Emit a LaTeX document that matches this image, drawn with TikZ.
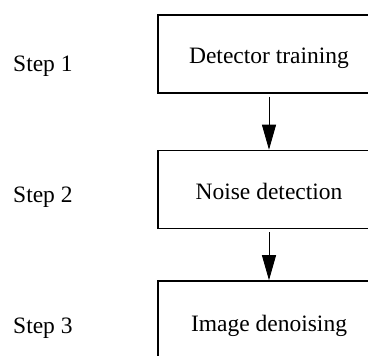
\documentclass[tikz,border=0pt]{standalone}
\usepackage{fontspec}
\setmainfont{Liberation Serif}
\usetikzlibrary{arrows.meta}
\begin{document}
\begin{tikzpicture}[x=1pt,y=-1pt,
  stepbox/.style={draw,line width=1.6pt,minimum width=222pt,minimum height=78pt,inner sep=0pt,
    font=\fontsize{23.5}{26}\selectfont,text height=20pt,text depth=0pt},
  steplabel/.style={anchor=base west,inner sep=0pt,font=\fontsize{23.5}{26}\selectfont},
  flow/.style={line width=0.9pt,-{Triangle[width=14pt,length=25pt]},shorten <=3pt}]
\useasboundingbox (0,0) rectangle (368,356);
\clip (0,0) rectangle (368,356);
\node[stepbox] (b1) at (269,53.8) {Detector training};
\node[stepbox] (b2) at (269,189.5) {Noise detection};
\node[stepbox,minimum height=80pt] (b3) at (269,321) {Image denoising};
\node[steplabel] (s1) at (13,71) {Step 1};
\node[steplabel] (s2) at (13,203) {Step 2};
\node[steplabel] (s3) at (13,334) {Step 3};
\draw[flow] (b1.south) -- (b2.north);
\draw[flow] (b2.south) -- (b3.north);
\end{tikzpicture}
\end{document}
